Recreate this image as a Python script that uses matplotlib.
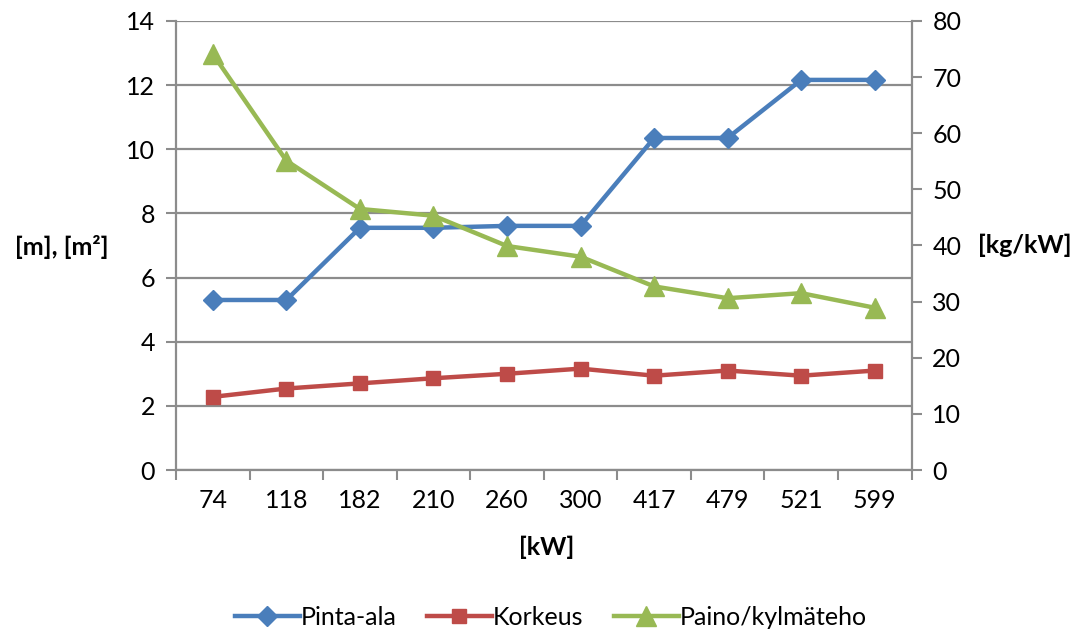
import matplotlib.pyplot as plt
import numpy as np

plt.rcParams['font.family'] = ['Lato', 'DejaVu Sans']

# Teho [kW]
kw = ['74', '118', '182', '210', '260', '300', '417', '479', '521', '599']
# Pinta-ala ja korkeus [m], [m²]
pinta_ala = [5.30, 5.30, 7.55, 7.55, 7.61, 7.61, 10.35, 10.35, 12.16, 12.16]
korkeus = [2.28, 2.54, 2.70, 2.86, 3.00, 3.16, 2.94, 3.10, 2.94, 3.10]
# Paino/kylmäteho [kg/kW]
paino = [74.1, 55.1, 46.5, 45.3, 39.9, 38.0, 32.7, 30.6, 31.5, 28.9]

grey = '#8c8c8c'
fs = 18
x = np.arange(len(kw))

fig = plt.figure(figsize=(10.8, 6.33), dpi=100)
ax = fig.add_axes([0.163, 0.2575, 0.681, 0.7095])
ax2 = ax.twinx()

l1, = ax.plot(x, pinta_ala, color='#4a7ebb', lw=3.2, marker='D', ms=10, label='Pinta-ala')
l2, = ax.plot(x, korkeus, color='#be4b48', lw=3.2, marker='s', ms=10, label='Korkeus')
l3, = ax2.plot(x, paino, color='#98b954', lw=3.2, marker='^', ms=14, label='Paino/kylmäteho')

ax.set_xlim(-0.5, len(kw) - 0.5)
ax.set_ylim(0, 14)
ax.set_yticks(range(0, 15, 2))
ax2.set_ylim(0, 80)
ax2.set_yticks(range(0, 81, 10))

ax.set_xticks(x)
ax.set_xticklabels(kw)
ax.set_xticks(np.arange(-0.5, len(kw)), minor=True)
ax.tick_params(axis='x', which='major', length=0, pad=14, labelsize=fs)
ax.tick_params(axis='x', which='minor', length=7, width=1.5, color=grey)
ax.tick_params(axis='y', length=7, width=1.5, color=grey, labelsize=fs, pad=8)
ax2.tick_params(axis='y', length=7, width=1.5, color=grey, labelsize=fs, pad=8)

ax.grid(axis='y', color=grey, lw=1.6)
ax.set_axisbelow(True)
for a in (ax, ax2):
    a.spines['top'].set_visible(False)
    for s in ('left', 'right', 'bottom'):
        a.spines[s].set_color(grey)
        a.spines[s].set_linewidth(1.6)
ax.spines['right'].set_visible(False)
ax2.spines['left'].set_visible(False)
ax2.spines['bottom'].set_visible(False)

fig.text(0.057, 0.61, '[m], [m²]', fontsize=fs, fontweight='bold', ha='center', va='center')
fig.text(0.949, 0.613, '[kg/kW]', fontsize=fs, fontweight='bold', ha='center', va='center')
fig.text(0.506, 0.135, '[kW]', fontsize=fs, fontweight='bold', ha='center', va='center')

fig.legend(handles=[l1, l2, l3], loc='center', bbox_to_anchor=(0.51, 0.025),
           ncol=3, frameon=False, fontsize=fs, handlelength=2.6,
           columnspacing=1.2, handletextpad=0.05)

fig.savefig('out.png', dpi=100)
